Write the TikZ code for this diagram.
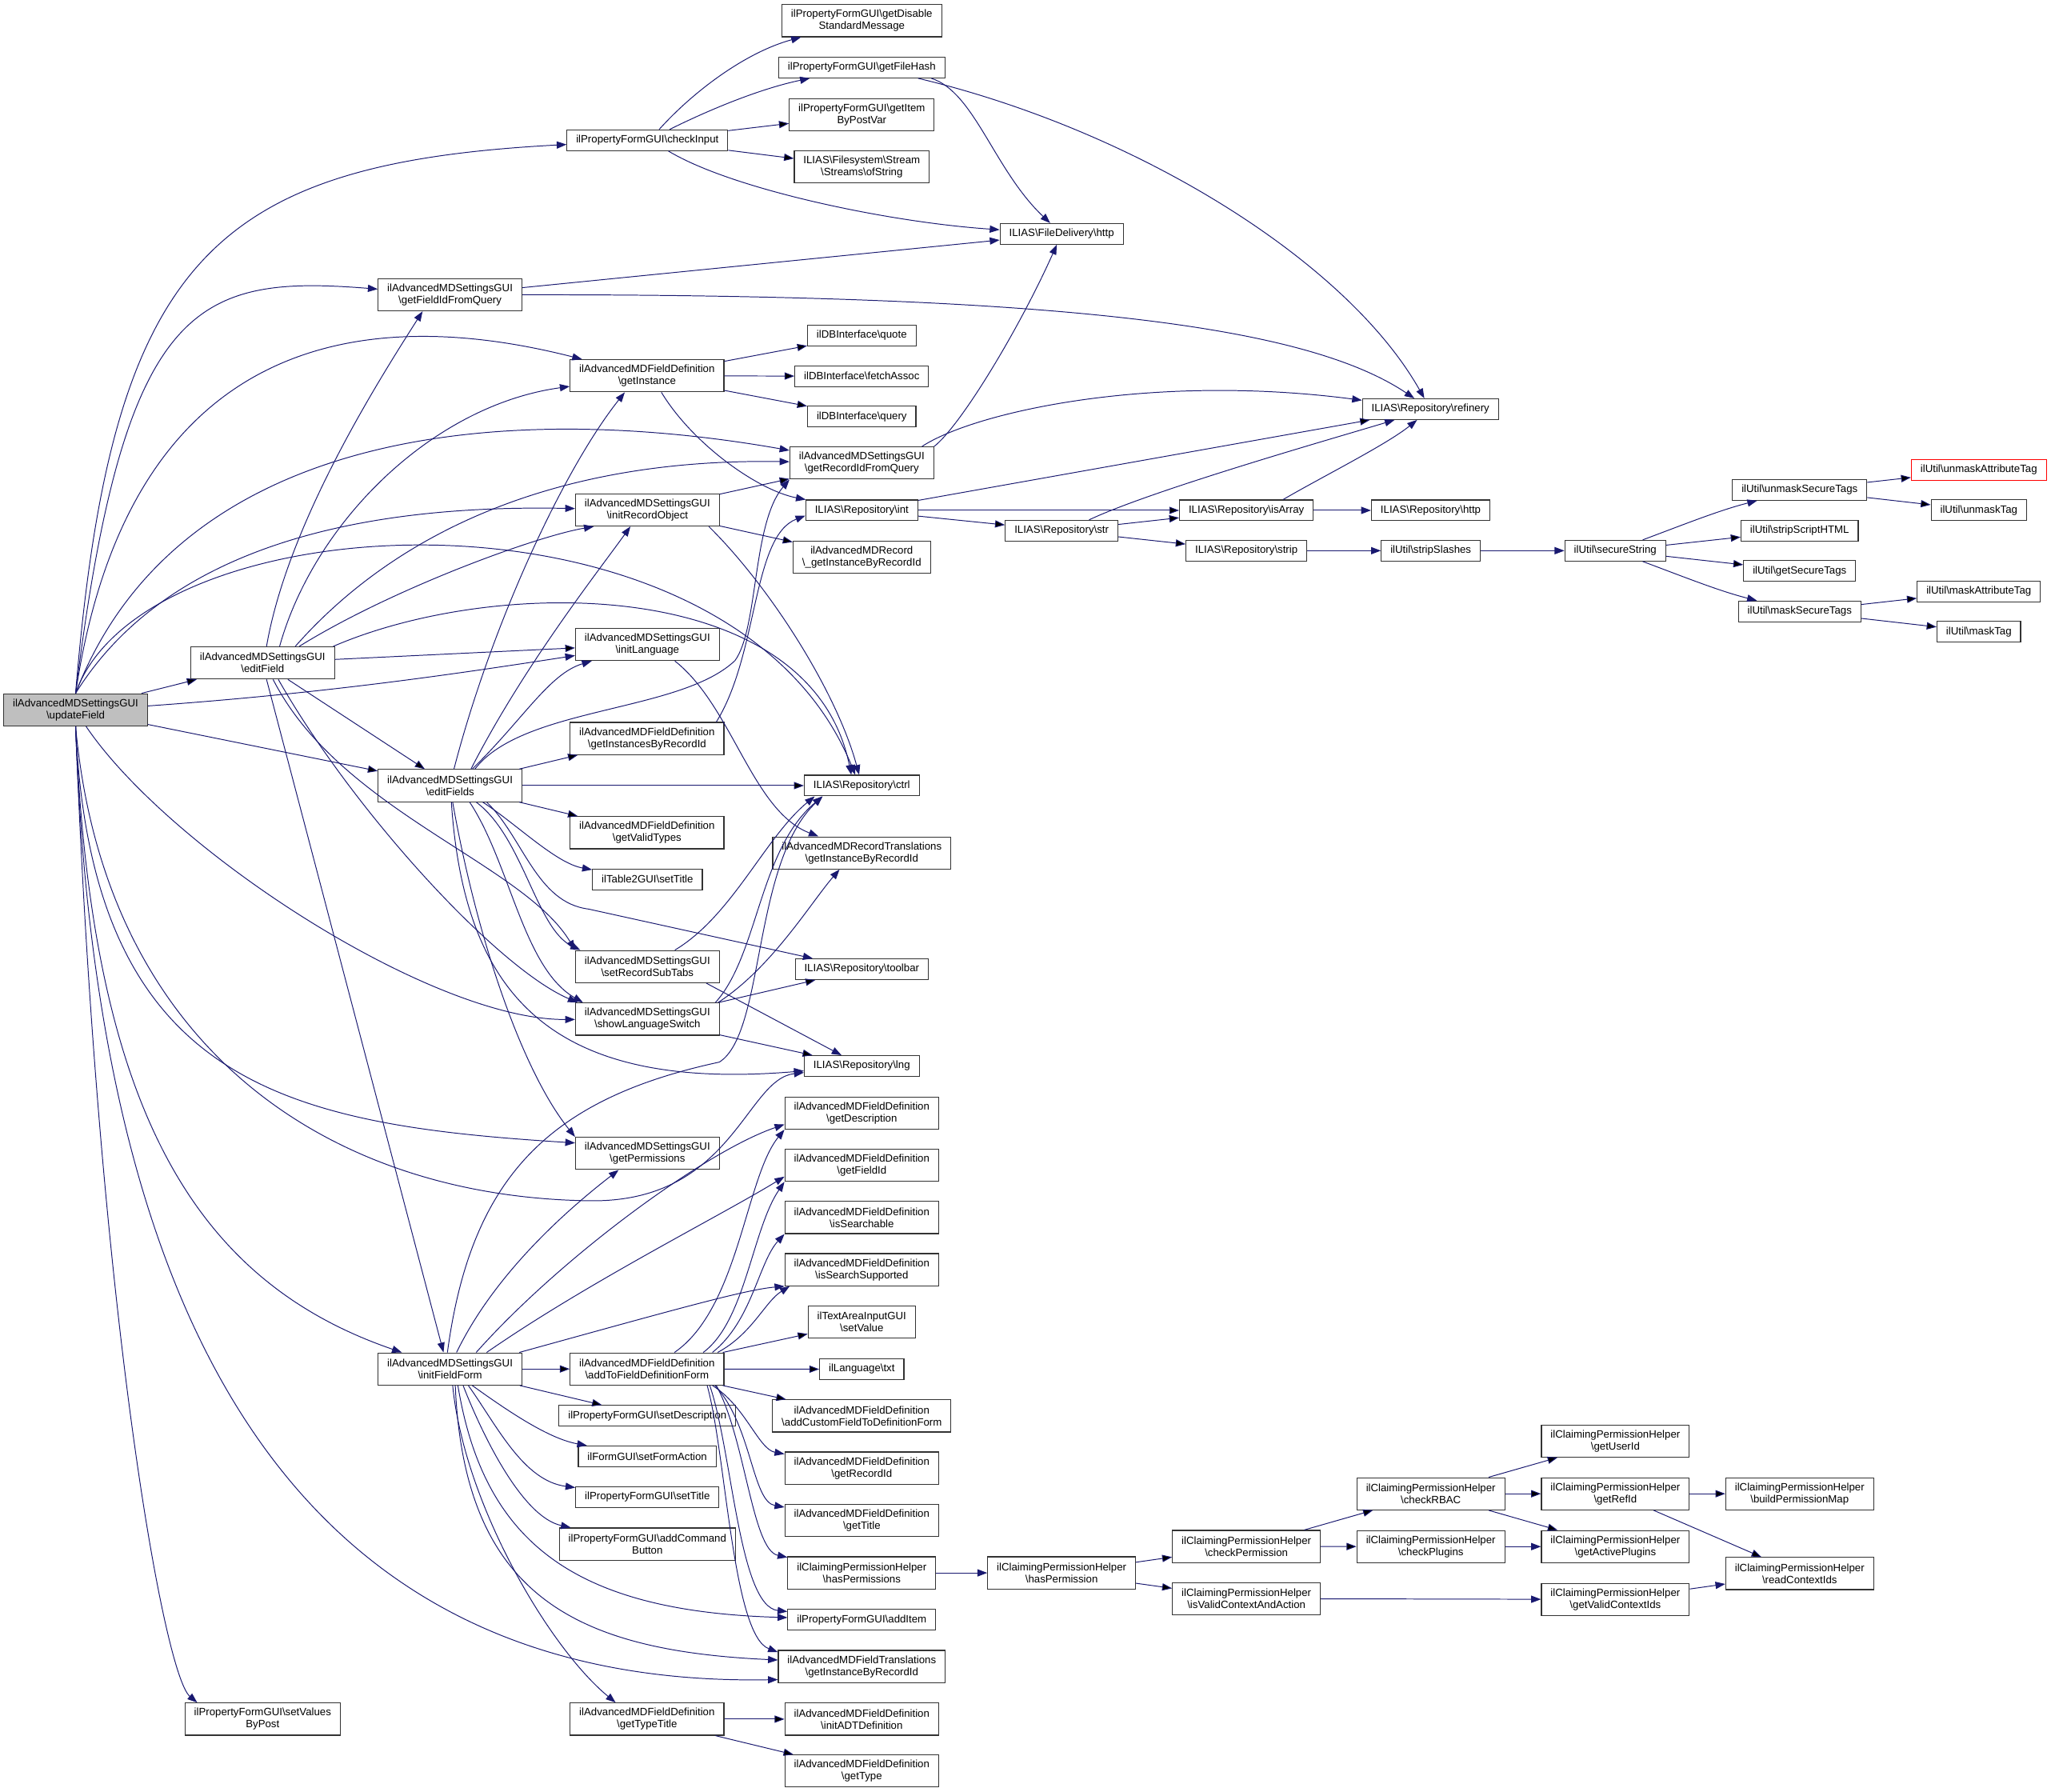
\documentclass[tikz,border=0pt]{standalone}
\usepackage{fontspec}
\setmainfont{Liberation Sans}
\usepackage{tikz}
\usetikzlibrary{arrows.meta}

\definecolor{callblue}{HTML}{191970}
\newcommand{\bsl}{\textbackslash}

\begin{document}
\begin{tikzpicture}[x=1pt, y=-1pt,
    fn/.style={draw=black!80, line width=0.7pt, fill=white, align=center,
      font={\fontsize{8.1}{9.2}\selectfont}, inner xsep=7pt, inner ysep=1pt,
      minimum height=15.8pt},
    fn2/.style={fn, minimum height=24.6pt},
    root/.style={fn2, fill=black!25},
    call/.style={draw=callblue, line width=0.6pt, -{Triangle[length=7.5pt,width=5.5pt]}}]
  \useasboundingbox (0,0) rectangle (1568.2,1370);
  \fill[white] (0,0) rectangle (1568.2,1370);

  % columns 0 to 3
  \node[root] (upd) at (57.8,542.7) {ilAdvancedMDSettingsGUI\\\bsl updateField};
  \node[fn2] (edf) at (200.8,506.8) {ilAdvancedMDSettingsGUI\\\bsl editField};
  \node[fn2] (svp) at (200.8,1314.3) {ilPropertyFormGUI\bsl setValues\\ByPost};
  \node[fn2] (gfq) at (344.1,225.4) {ilAdvancedMDSettingsGUI\\\bsl getFieldIdFromQuery};
  \node[fn2] (efs) at (344.1,600.6) {ilAdvancedMDSettingsGUI\\\bsl editFields};
  \node[fn2] (iff) at (344.1,1046.6) {ilAdvancedMDSettingsGUI\\\bsl initFieldForm};
  \node[fn] (chk) at (495,107.2) {ilPropertyFormGUI\bsl checkInput};
  \node[fn2] (gin) at (494.7,287.3) {ilAdvancedMDFieldDefinition\\\bsl getInstance};
  \node[fn2] (iro) at (495,389.9) {ilAdvancedMDSettingsGUI\\\bsl initRecordObject};
  \node[fn2] (ila) at (495,492.7) {ilAdvancedMDSettingsGUI\\\bsl initLanguage};
  \node[fn2] (gir) at (494.7,564.6) {ilAdvancedMDFieldDefinition\\\bsl getInstancesByRecordId};
  \node[fn2] (gvt) at (494.7,636.6) {ilAdvancedMDFieldDefinition\\\bsl getValidTypes};
  \node[fn] (tst) at (495,672.3) {ilTable2GUI\bsl setTitle};
  \node[fn2] (rst) at (495,739) {ilAdvancedMDSettingsGUI\\\bsl setRecordSubTabs};
  \node[fn2] (sls) at (495,779.1) {ilAdvancedMDSettingsGUI\\\bsl showLanguageSwitch};
  \node[fn2] (gpm) at (495,881.8) {ilAdvancedMDSettingsGUI\\\bsl getPermissions};
  \node[fn2] (atf) at (494.7,1046.6) {ilAdvancedMDFieldDefinition\\\bsl addToFieldDefinitionForm};
  \node[fn] (sde) at (495,1082.4) {ilPropertyFormGUI\bsl setDescription};
  \node[fn] (sfa) at (494.9,1113.4) {ilFormGUI\bsl setFormAction};
  \node[fn] (pst) at (495,1144.6) {ilPropertyFormGUI\bsl setTitle};
  \node[fn2] (acb) at (495,1180.5) {ilPropertyFormGUI\bsl addCommand\\Button};
  \node[fn2] (gtt) at (494.7,1314.3) {ilAdvancedMDFieldDefinition\\\bsl getTypeTitle};

  % column 4
  \node[fn2] (gds) at (658.9,15.8) {ilPropertyFormGUI\bsl getDisable\\StandardMessage};
  \node[fn] (gfh) at (658.9,51.6) {ilPropertyFormGUI\bsl getFileHash};
  \node[fn2] (gip) at (658.9,87.8) {ilPropertyFormGUI\bsl getItem\\ByPostVar};
  \node[fn2] (ofs) at (658.9,127.6) {ILIAS\bsl Filesystem\bsl Stream\\\bsl Streams\bsl ofString};
  \node[fn] (quo) at (658.9,256.5) {ilDBInterface\bsl quote};
  \node[fn] (fas) at (658.9,287.6) {ilDBInterface\bsl fetchAssoc};
  \node[fn] (qry) at (658.9,318.4) {ilDBInterface\bsl query};
  \node[fn2] (grq) at (658.9,354) {ilAdvancedMDSettingsGUI\\\bsl getRecordIdFromQuery};
  \node[fn] (rint) at (658.9,390.2) {ILIAS\bsl Repository\bsl int};
  \node[fn2] (rgi) at (658.9,426) {ilAdvancedMDRecord\\\bsl \_getInstanceByRecordId};
  \node[fn] (ctl) at (658.9,600.6) {ILIAS\bsl Repository\bsl ctrl};
  \node[fn2] (rtr) at (658.9,652.1) {ilAdvancedMDRecordTranslations\\\bsl getInstanceByRecordId};
  \node[fn] (tlb) at (658.9,741) {ILIAS\bsl Repository\bsl toolbar};
  \node[fn] (lng) at (658.9,815) {ILIAS\bsl Repository\bsl lng};
  \node[fn2] (gde) at (658.9,851) {ilAdvancedMDFieldDefinition\\\bsl getDescription};
  \node[fn2] (gfi) at (658.9,890.9) {ilAdvancedMDFieldDefinition\\\bsl getFieldId};
  \node[fn2] (iss) at (658.9,930.8) {ilAdvancedMDFieldDefinition\\\bsl isSearchable};
  \node[fn2] (isu) at (658.9,970.7) {ilAdvancedMDFieldDefinition\\\bsl isSearchSupported};
  \node[fn2] (tav) at (658.9,1010.8) {ilTextAreaInputGUI\\\bsl setValue};
  \node[fn] (txt) at (658.9,1046.8) {ilLanguage\bsl txt};
  \node[fn2] (acf) at (658.9,1082.5) {ilAdvancedMDFieldDefinition\\\bsl addCustomFieldToDefinitionForm};
  \node[fn2] (grid) at (658.9,1122.4) {ilAdvancedMDFieldDefinition\\\bsl getRecordId};
  \node[fn2] (gti) at (658.9,1162.4) {ilAdvancedMDFieldDefinition\\\bsl getTitle};
  \node[fn2] (hps) at (658.9,1202.5) {ilClaimingPermissionHelper\\\bsl hasPermissions};
  \node[fn] (adi) at (658.9,1238.3) {ilPropertyFormGUI\bsl addItem};
  \node[fn2] (ftr) at (658.9,1274.1) {ilAdvancedMDFieldTranslations\\\bsl getInstanceByRecordId};
  \node[fn2] (iad) at (658.9,1314.3) {ilAdvancedMDFieldDefinition\\\bsl initADTDefinition};
  \node[fn2] (gty) at (658.9,1354) {ilAdvancedMDFieldDefinition\\\bsl getType};

  % columns 5 to 10
  \node[fn] (fdh) at (811.7,178.8) {ILIAS\bsl FileDelivery\bsl http};
  \node[fn] (str) at (811.7,405.7) {ILIAS\bsl Repository\bsl str};
  \node[fn2] (hpn) at (811.7,1202.5) {ilClaimingPermissionHelper\\\bsl hasPermission};
  \node[fn] (isa) at (953,390.2) {ILIAS\bsl Repository\bsl isArray};
  \node[fn] (stp) at (953,421) {ILIAS\bsl Repository\bsl strip};
  \node[fn2] (cpm) at (953,1182.3) {ilClaimingPermissionHelper\\\bsl checkPermission};
  \node[fn2] (ivc) at (953,1222.2) {ilClaimingPermissionHelper\\\bsl isValidContextAndAction};
  \node[fn] (ref) at (1093.7,312.8) {ILIAS\bsl Repository\bsl refinery};
  \node[fn] (rht) at (1093.9,390.2) {ILIAS\bsl Repository\bsl http};
  \node[fn] (sts) at (1094,421) {ilUtil\bsl stripSlashes};
  \node[fn2] (rba) at (1094,1142) {ilClaimingPermissionHelper\\\bsl checkRBAC};
  \node[fn2] (cpl) at (1094,1182.4) {ilClaimingPermissionHelper\\\bsl checkPlugins};
  \node[fn] (sst) at (1235,421) {ilUtil\bsl secureString};
  \node[fn2] (gui) at (1235.1,1101.7) {ilClaimingPermissionHelper\\\bsl getUserId};
  \node[fn2] (grf) at (1235.1,1142) {ilClaimingPermissionHelper\\\bsl getRefId};
  \node[fn2] (gap) at (1235.1,1182.4) {ilClaimingPermissionHelper\\\bsl getActivePlugins};
  \node[fn2] (gvc) at (1235.1,1222.8) {ilClaimingPermissionHelper\\\bsl getValidContextIds};
  \node[fn] (ust) at (1376,374.5) {ilUtil\bsl unmaskSecureTags};
  \node[fn] (ssh) at (1376,405.7) {ilUtil\bsl stripScriptHTML};
  \node[fn] (gst) at (1376,436.5) {ilUtil\bsl getSecureTags};
  \node[fn] (mst) at (1376,467.4) {ilUtil\bsl maskSecureTags};
  \node[fn2] (bpm) at (1376,1142) {ilClaimingPermissionHelper\\\bsl buildPermissionMap};
  \node[fn2] (rci) at (1376,1203) {ilClaimingPermissionHelper\\\bsl readContextIds};
  \node[fn, draw=red] (uat) at (1513,359.3) {ilUtil\bsl unmaskAttributeTag};
  \node[fn] (umt) at (1513,390.1) {ilUtil\bsl unmaskTag};
  \node[fn] (mat) at (1513,452.1) {ilUtil\bsl maskAttributeTag};
  \node[fn] (mtg) at (1513,483) {ilUtil\bsl maskTag};

  % updateField
  \draw[call] (upd.north) .. controls (85,200) and (160,125) .. (chk);
  \draw[call] (upd.north) .. controls (95,230) and (150,210) .. (gfq);
  \draw[call] (upd.north) .. controls (95,280) and (250,225) .. (gin);
  \draw[call] (upd.north) .. controls (135,330) and (380,305) .. (grq);
  \draw[call] (upd.north) .. controls (120,430) and (250,385) .. (iro);
  \draw[call] (upd.north) .. controls (110,380) and (560,360) .. ([xshift=-5pt]ctl.north);
  \draw[call] (upd) edge (edf) edge (efs);
  \draw[call] ([yshift=3pt]upd.east) .. controls (250,530) and (350,515) .. (ila);
  \draw[call] ([xshift=8pt]upd.south) .. controls (130,650) and (330,780) .. (sls);
  \draw[call] (upd.south) .. controls (70,830) and (220,860) .. ([yshift=8pt]gpm.west);
  \draw[call] (upd.south) .. controls (80,800) and (250,915) .. (450,918) .. controls (560,920) and (570,825) .. (lng);
  \draw[call] (upd.south) .. controls (70,850) and (150,980) .. (iff);
  \draw[call] (upd.south) .. controls (75,1050) and (250,1290) .. ([yshift=-10pt]ftr.west);
  \draw[call] (upd.south) .. controls (75,1000) and (125,1280) .. ([xshift=-50pt]svp.north);

  % checkInput, getFileHash, getFieldIdFromQuery, getRecordIdFromQuery
  \draw[call] ([xshift=9pt]chk.north) .. controls (530,70) and (570,40) .. (gds);
  \draw[call] ([xshift=17pt]chk.north) .. controls (540,85) and (580,68) .. (gfh);
  \draw[call] (chk) edge (gip) edge (ofs);
  \draw[call] ([xshift=16pt]chk.south) .. controls (560,145) and (680,170) .. (fdh);
  \draw[call] ([xshift=53pt]gfh.south) .. controls (745,70) and (760,130) .. (fdh);
  \draw[call] ([xshift=43pt]gfh.south) .. controls (870,100) and (1030,200) .. (ref);
  \draw[call] (gfq) -- (fdh);
  \draw[call] (gfq) .. controls (820,225) and (1000,250) .. (ref);
  \draw[call] (grq.north east) .. controls (735,325) and (780,250) .. (fdh);
  \draw[call] ([xshift=46pt]grq.north) .. controls (745,315) and (880,285) .. (ref);

  % getInstance, initRecordObject, Repository
  \draw[call] (gin) edge (quo) edge (fas) edge (qry);
  \draw[call] ([xshift=11pt]gin.south) .. controls (530,340) and (580,375) .. (rint);
  \draw[call] (iro) edge (grq) edge (rgi);
  \draw[call] ([xshift=47pt]iro.south) .. controls (590,450) and (640,530) .. ([xshift=-2pt]ctl.north);
  \draw[call] (rint) edge (ref) edge (isa) edge (str);
  \draw[call] ([xshift=21pt]str.north) .. controls (880,375) and (1020,335) .. (ref);
  \draw[call] (str) edge (isa) edge (stp);
  \draw[call] ([xshift=28pt]isa.north) .. controls (1010,365) and (1060,340) .. (ref);
  \draw[call] (isa) -- (rht);
  \draw[call] (stp) -- (sts);
  \draw[call] (sts) -- (sst);

  % ilUtil
  \draw[call] ([xshift=21pt]sst.north) .. controls (1290,400) and (1315,390) .. (ust);
  \draw[call] (sst) edge (ssh) edge (gst);
  \draw[call] ([xshift=21pt]sst.south) .. controls (1290,442) and (1315,452) .. (mst);
  \draw[call] (ust) edge (uat) edge (umt);
  \draw[call] (mst) edge (mat) edge (mtg);

  % initLanguage
  \draw[call] ([xshift=21pt]ila.south) .. controls (560,540) and (575,620) .. (rtr);

  % editField
  \draw[call] ([xshift=3pt]edf.north) .. controls (220,400) and (290,290) .. ([xshift=-21pt]gfq.south);
  \draw[call] ([xshift=13pt]edf.north) .. controls (240,400) and (330,310) .. (gin);
  \draw[call] ([xshift=25pt]edf.north) .. controls (300,410) and (420,350) .. ([yshift=1pt]grq.west);
  \draw[call] ([xshift=28pt]edf.north) .. controls (300,450) and (410,410) .. ([xshift=-41pt]iro.south);
  \draw[call] ([xshift=54pt]edf.north) .. controls (380,440) and (620,440) .. ([xshift=-8pt]ctl.north);
  \draw[call] (edf) edge (ila) edge (efs);
  \draw[call] ([xshift=3pt]edf.south) -- ([xshift=-5pt]iff.north);
  \draw[call] ([xshift=8pt]edf.south) .. controls (260,620) and (400,660) .. (rst.north west);
  \draw[call] ([xshift=12pt]edf.south) .. controls (270,620) and (380,740) .. ([xshift=2pt]sls.north west);

  % editFields
  \draw[call] ([xshift=3pt]efs.north) .. controls (375,480) and (430,360) .. ([xshift=-17pt]gin.south);
  \draw[call] ([xshift=16pt]efs.north) .. controls (400,510) and (455,440) .. ([xshift=-13pt]iro.south);
  \draw[call] ([xshift=17pt]efs.north) .. controls (400,550) and (420,515) .. (ila);
  \draw[call] ([xshift=19pt]efs.north) .. controls (400,540) and (520,545) .. (562,505) .. controls (580,480) and (575,400) .. (grq.south west);
  \draw[call] (efs) edge (gir) edge (ctl) edge (gvt);
  \draw[call] ([xshift=25pt]efs.south) .. controls (395,630) and (425,660) .. (tst);
  \draw[call] ([xshift=28pt]efs.south) .. controls (400,640) and (410,690) .. (450,695) -- (tlb);
  \draw[call] ([xshift=20pt]efs.south) .. controls (400,640) and (410,710) .. ([xshift=4pt]rst.north west);
  \draw[call] ([xshift=15pt]efs.south) .. controls (390,660) and (400,740) .. ([xshift=6pt]sls.north west);
  \draw[call] ([xshift=2pt]efs.south) .. controls (365,720) and (400,820) .. (gpm.north west);
  \draw[call] ([xshift=1pt]efs.south) .. controls (355,760) and (420,835) .. (lng);
  \draw[call] ([xshift=53pt]gir.north) .. controls (580,500) and (575,410) .. ([yshift=-4pt]rint.west);

  % setRecordSubTabs, showLanguageSwitch
  \draw[call] ([xshift=21pt]rst.north) .. controls (560,700) and (585,640) .. ([xshift=-36pt]ctl.south);
  \draw[call] ([xshift=45pt]rst.south) -- (lng);
  \draw[call] ([xshift=52pt]sls.north) .. controls (580,730) and (580,650) .. ([xshift=-30pt]ctl.south);
  \draw[call] ([xshift=54pt]sls.north) .. controls (590,740) and (620,690) .. ([xshift=-17pt]rtr.south);
  \draw[call] (sls) edge (tlb) edge (lng);

  % initFieldForm
  \draw[call] (iff) edge (atf) edge (sde);
  \draw[call] ([xshift=17pt]iff.south) .. controls (390,1080) and (420,1100) .. (sfa);
  \draw[call] ([xshift=14pt]iff.south) .. controls (380,1090) and (400,1132) .. (pst);
  \draw[call] ([xshift=10pt]iff.south) .. controls (370,1100) and (400,1160) .. (acb);
  \draw[call] ([xshift=2pt]iff.south) .. controls (355,1150) and (420,1260) .. ([xshift=-24pt]gtt.north);
  \draw[call] ([xshift=6pt]iff.south) .. controls (370,1180) and (440,1232) .. (adi);
  \draw[call] ([xshift=4pt]iff.south) .. controls (355,1220) and (440,1262) .. ([yshift=5pt]ftr.west);
  \draw[call] ([xshift=5pt]iff.north) .. controls (380,970) and (440,920) .. ([xshift=-22pt]gpm.south);
  \draw[call] ([xshift=20pt]iff.north) .. controls (430,960) and (540,880) .. ([yshift=4pt]gde.south west);
  \draw[call] ([xshift=28pt]iff.north) .. controls (450,980) and (550,930) .. ([yshift=4pt]gfi.south west);
  \draw[call] ([xshift=53pt]iff.north) .. controls (520,1000) and (570,986) .. (isu.south west);
  \draw[call] ([xshift=-2pt]iff.north) .. controls (360,900) and (420,840) .. (550,812) .. controls (585,790) and (575,660) .. ([xshift=-30pt]ctl.south);

  % addToFieldDefinitionForm
  \draw[call] ([xshift=21pt]atf.north) .. controls (565,1000) and (570,900) .. (gde.south west);
  \draw[call] ([xshift=43pt]atf.north) .. controls (570,1010) and (575,940) .. (gfi.south west);
  \draw[call] ([xshift=50pt]atf.north) .. controls (575,1010) and (580,965) .. (iss.south west);
  \draw[call] ([xshift=54pt]atf.north) .. controls (575,1020) and (585,995) .. ([xshift=4pt]isu.south west);
  \draw[call] (atf) edge (tav) edge (txt) edge (acf);
  \draw[call] ([xshift=50pt]atf.south) .. controls (570,1075) and (580,1108) .. (grid);
  \draw[call] ([xshift=52pt]atf.south) .. controls (575,1090) and (575,1148) .. (gti);
  \draw[call] ([xshift=53pt]atf.south) .. controls (570,1100) and (575,1185) .. (hps);
  \draw[call] ([xshift=48pt]atf.south) .. controls (560,1110) and (565,1228) .. (adi);
  \draw[call] ([xshift=46pt]atf.south) .. controls (555,1110) and (560,1250) .. ([yshift=11pt]ftr.west);
  \draw[call] (gtt) edge (iad) edge (gty);

  % permission helpers
  \draw[call] (hps) -- (hpn);
  \draw[call] (hpn) edge (cpm) edge (ivc);
  \draw[call] (cpm) edge (rba) edge (cpl);
  \draw[call] (ivc) -- (gvc);
  \draw[call] (rba) edge (gui) edge (grf) edge (gap);
  \draw[call] (cpl) -- (gap);
  \draw[call] (grf) edge (bpm) edge (rci);
  \draw[call] (gvc) -- (rci);
\end{tikzpicture}
\end{document}
